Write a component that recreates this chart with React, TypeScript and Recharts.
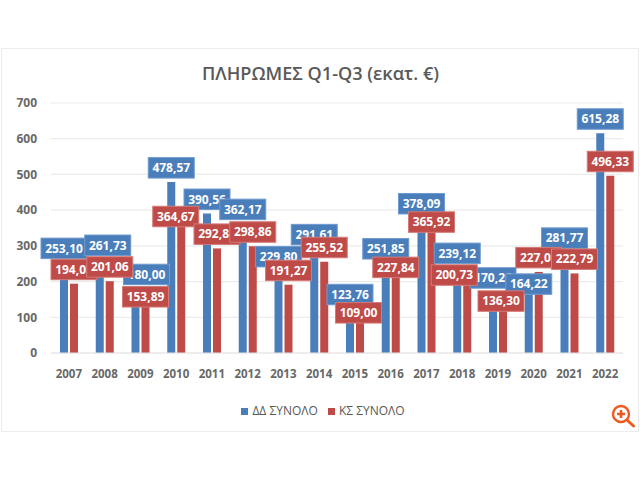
import React from "react";
import { BarChart, Bar, XAxis, YAxis, CartesianGrid, Legend, LabelList } from "recharts";

const years = ["2007","2008","2009","2010","2011","2012","2013","2014","2015","2016","2017","2018","2019","2020","2021","2022"];
const ddValues = [253.10,261.73,180.00,478.57,390.56,362.17,229.80,291.61,123.76,251.85,378.09,239.12,170.26,164.22,281.77,615.28];
const ksValues = [194.03,201.06,153.89,364.67,292.84,298.86,191.27,255.52,109.00,227.84,365.92,200.73,136.30,227.03,222.79,496.33];
const yTicks = [0,100,200,300,400,500,600,700];
const chartTitle = "ΠΛΗΡΩΜΕΣ Q1-Q3 (εκατ. €)";
const ddName = "ΔΔ ΣΥΝΟΛΟ";
const ksName = "ΚΣ ΣΥΝΟΛΟ";

// hand-moved data labels in the original: year -> [dx, dy]
const ddLabelMoves: Record<string, number[]> = { "2008": [8, 0], "2009": [11, 0], "2020": [0, 4] };
const ksLabelMoves: Record<string, number[]> = {
  "2009": [0, 13], "2010": [-5.5, 8], "2015": [-1.5, 13], "2016": [0, 10],
  "2017": [0, 14], "2018": [-13, 8], "2019": [-2, 11],
};

const data = years.map((year, i) => ({ year, dd: ddValues[i], ks: ksValues[i] }));
const BLUE = "#4a7ebb";
const RED = "#be4b48";
const FONT = "'Open Sans', sans-serif";
const CHART_MARGIN = { top: 103, left: 11, right: 17, bottom: 47 };

const makeLabel = (fill: string, border: string, moves: Record<string, number[]>) => (props: any) => {
  const { x, y, width, value, index } = props;
  const [dx, dy] = moves[years[index]] || [0, 0];
  const cx = Number(x) + Number(width) / 2 + dx;
  const w = 46;
  const h = 20.5;
  const top = Number(y) - 4 - h + dy;
  return (
    <g>
      <rect x={cx - w / 2} y={top} width={w} height={h} fill={fill} stroke={border} strokeWidth={1} />
      <text x={cx} y={top + h / 2 + 4.3} textAnchor="middle" fill="#ffffff" fontFamily={FONT} fontWeight={700} fontSize={12}>
        {Number(value).toFixed(2).replace(".", ",")}
      </text>
    </g>
  );
};

export default function App() {
  return (
    <div style={{ position: "absolute", left: 0, top: 0, width: 640, height: 480, background: "#fff", overflow: "hidden" }}>
      <div style={{ position: "absolute", left: 1, top: 48, width: 637.5, height: 384, border: "1.5px solid #ececec", boxSizing: "border-box" }} />
      <div style={{ position: "absolute", left: 0, top: 60, width: 641, textAlign: "center", fontFamily: FONT, fontSize: 18.1, fontWeight: 600, lineHeight: "26px", color: "#595959" }}>
        {chartTitle}
      </div>
      <div style={{ position: "absolute", left: 0, top: 0 }}>
        <BarChart width={640} height={480} data={data} barSize={8} barGap={2} margin={{ ...CHART_MARGIN, bottom: 30 }}>
          <CartesianGrid vertical={false} stroke="#ececec" strokeWidth={1.2} />
          <XAxis
            dataKey="year"
            height={80}
            interval={0}
            tickLine={false}
            axisLine={{ stroke: "#e4e4e4" }}
            tickMargin={11}
            tick={{ fill: "#686868", fontFamily: FONT, fontWeight: 700, fontSize: 11.5 }}
          />
          <YAxis
            width={40}
            domain={[0, 700]}
            ticks={yTicks}
            tickLine={false}
            axisLine={false}
            tickMargin={8}
            tick={{ fill: "#686868", fontFamily: FONT, fontWeight: 700, fontSize: 12 }}
          />
          <Legend
            verticalAlign="bottom"
            align="center"
            iconType="square"
            iconSize={7}
            wrapperStyle={{ fontFamily: FONT, fontSize: 12, bottom: 61, left: 0, width: 656 }}
            formatter={(v: string) => <span style={{ color: "#595959" }}>{v}</span>}
          />
          <Bar dataKey="dd" name={ddName} fill={BLUE} isAnimationActive={false} />
          <Bar dataKey="ks" name={ksName} fill={RED} isAnimationActive={false} />
        </BarChart>
      </div>
      <div style={{ position: "absolute", left: 0, top: 0 }}>
        <BarChart width={640} height={480} data={data} barSize={8} barGap={2} margin={CHART_MARGIN}>
          <XAxis dataKey="year" height={80} interval={0} tick={false} tickLine={false} axisLine={false} />
          <YAxis width={40} domain={[0, 700]} ticks={yTicks} tick={false} tickLine={false} axisLine={false} />
          <Bar dataKey="dd" fill="none" isAnimationActive={false}>
            <LabelList dataKey="dd" content={makeLabel(BLUE, "#6f9ad0", ddLabelMoves)} />
          </Bar>
          <Bar dataKey="ks" fill="none" isAnimationActive={false}>
            <LabelList dataKey="ks" content={makeLabel(RED, "#d47a77", ksLabelMoves)} />
          </Bar>
        </BarChart>
      </div>
      <svg width={30} height={30} style={{ position: "absolute", left: 609, top: 402 }}>
        <circle cx={12} cy={12} r={8} fill="#fff" stroke="#f0591e" strokeWidth={2.4} />
        <path d="M8 12h8M12 8v8" stroke="#f0591e" strokeWidth={2.6} />
        <path d="M18.5 18.5l6 5.5" stroke="#f0591e" strokeWidth={3} strokeLinecap="round" />
      </svg>
    </div>
  );
}
